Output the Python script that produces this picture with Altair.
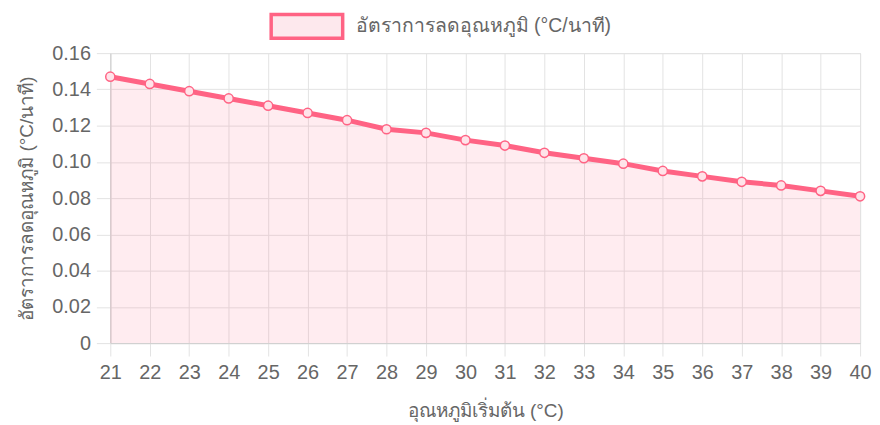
import altair as alt
import pandas as pd

start_temp = list(range(21, 41))
cooling_rate = [0.147, 0.143, 0.139, 0.135, 0.131, 0.127, 0.123, 0.118, 0.116, 0.112,
                0.109, 0.105, 0.102, 0.099, 0.095, 0.092, 0.089, 0.087, 0.084, 0.081]
series_name = "อัตราการลดอุณหภูมิ (°C/นาที)"
x_title = "อุณหภูมิเริ่มต้น (°C)"
y_title = "อัตราการลดอุณหภูมิ (°C/นาที)"
y_ticks = [0, 0.02, 0.04, 0.06, 0.08, 0.10, 0.12, 0.14, 0.16]

df = pd.DataFrame({"t": start_temp, "r": cooling_rate, "s": [series_name] * len(start_temp)})

PINK = "#ff6384"
FONT = "Liberation Sans"
GRID = "#e3e3e3"
TXT = "#666666"

x_enc = alt.X("t:Q", scale=alt.Scale(domain=[21, 40], nice=False, zero=False),
              axis=alt.Axis(values=start_temp, format="d", title=x_title,
                            grid=True, gridColor=GRID, tickColor=GRID, tickSize=13,
                            domainColor="#d0d0d0", labelPadding=7, labelFontSize=20,
                            labelColor=TXT, labelFont=FONT, titleFont=FONT,
                            titleFontSize=19, titleColor=TXT, titleFontWeight="normal",
                            titleX=377.5, titleY=68, titleBaseline="middle",
                            labelFlush=False))
y_enc = alt.Y("r:Q", scale=alt.Scale(domain=[0, 0.16], nice=False),
              axis=alt.Axis(values=y_ticks, title=y_title,
                            labelExpr="datum.value == 0 ? '0' : format(datum.value, '.2f')",
                            grid=True, gridColor=GRID, tickColor=GRID, tickSize=14,
                            domainColor="#d0d0d0", labelPadding=6, labelFontSize=20,
                            labelColor=TXT, labelFont=FONT, titleFont=FONT,
                            titleFontSize=19, titleColor=TXT, titleFontWeight="normal",
                            titleX=-84, titleY=146, titleAngle=270, titleAlign="center",
                            titleBaseline="middle", labelFlush=False))

color = alt.Color("s:N", scale=alt.Scale(range=[PINK]),
                  legend=alt.Legend(orient="none", legendX=160, legendY=-53, title=None,
                                    symbolType="M-1,-0.5 H2 V0.5 H-1 Z", symbolSize=2304,
                                    symbolStrokeWidth=3.5, labelOffset=35, padding=0,
                                    labelFont=FONT, labelFontSize=19.5, labelColor=TXT,
                                    labelLimit=400,
                                    symbolFillColor="#fde8ed", symbolStrokeColor=PINK,
                                    symbolOpacity=1))

area = alt.Chart(df).mark_area(color=PINK, opacity=0.12).encode(x=x_enc, y=y_enc)
line = alt.Chart(df).mark_line(strokeWidth=5).encode(x=x_enc, y=y_enc, color=color)
pts = alt.Chart(df).mark_point(shape="circle", size=85, filled=False, stroke=PINK,
                               fill="#ffe3e9", fillOpacity=1, strokeWidth=1.5,
                               opacity=1).encode(x=x_enc, y=y_enc)

chart = alt.layer(area, line, pts).properties(
    width=755, height=292,
    autosize=alt.AutoSizeParams(type="none"),
    padding={"left": 103, "top": 44, "right": 12, "bottom": 78},
).configure_view(stroke=None).configure(background="white")

chart.save("out.html", embed_options={"renderer": "svg", "actions": False})
